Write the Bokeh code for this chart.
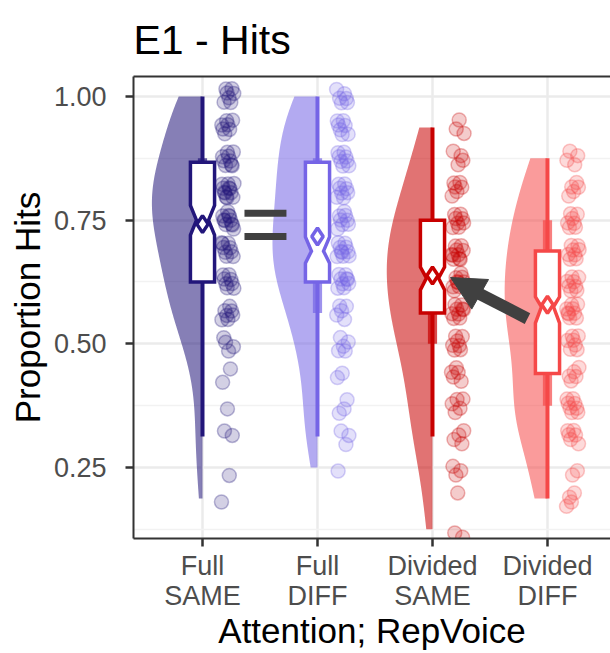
import numpy as np
from bokeh.plotting import figure
from bokeh.models import (FixedTicker, LinearAxis, Range1d, Arrow, NormalHead,
                          NumeralTickFormatter)
from bokeh.embed import file_html
from bokeh.resources import INLINE

# ---------------- data ----------------
TITLE = "E1 - Hits"
CATEGORIES = ["Full\nSAME", "Full\nDIFF", "Divided\nSAME", "Divided\nDIFF"]
POSITIONS = [1, 2, 3, 4]
LEVELS = [0.125, 0.1875, 0.25, 0.3125, 0.375, 0.4375, 0.5, 0.5625,
          0.625, 0.6875, 0.75, 0.8125, 0.875, 0.9375, 1.0]
# number of participants at each proportion level (ascending LEVELS)
FULL_SAME_COUNTS    = [0, 1, 1, 2, 1, 2, 4, 7, 8, 9, 11, 12, 9, 7, 7]
FULL_DIFF_COUNTS    = [0, 0, 1, 3, 3, 2, 5, 5, 9, 10, 8, 8, 8, 7, 6]
DIVIDED_SAME_COUNTS = [2, 1, 3, 4, 5, 5, 7, 9, 9, 10, 8, 6, 4, 3, 0]
DIVIDED_DIFF_COUNTS = [0, 4, 2, 6, 8, 5, 7, 9, 8, 8, 7, 5, 4, 0, 0]
COUNTS = [FULL_SAME_COUNTS, FULL_DIFF_COUNTS, DIVIDED_SAME_COUNTS, DIVIDED_DIFF_COUNTS]

# box statistics as drawn
Q1 = [0.625, 0.625, 0.5625, 0.44]
MEDIAN = [0.75, 0.6875, 0.633, 0.575]
Q3 = [0.867, 0.867, 0.75, 0.6875]
NOTCH_LO = [0.72, 0.663, 0.609, 0.542]
NOTCH_HI = [0.78, 0.716, 0.655, 0.595]
MEAN = [0.742, 0.717, 0.638, 0.579]
WHISKER_LO = [0.3125, 0.3125, 0.3125, 0.1875]
WHISKER_HI = [1.0, 1.0, 0.9375, 0.875]
BAND_LO = [0.625, 0.5625, 0.5, 0.375]
BAND_HI = [0.875, 0.875, 0.75, 0.75]

Y_TICKS = [0.25, 0.5, 0.75, 1.0]
Y_MINOR = [0.125, 0.375, 0.625, 0.875]

# annotations ("=" sign and arrow)
EQUALS_X = [1.365, 1.73]
EQUALS_Y = [0.764, 0.717]
ARROW_START = (3.826, 0.551)
ARROW_BASE = (3.40, 0.602)
ARROW_TIP = (3.157, 0.634)

LINE_COLORS = ["#22167a", "#7564e6", "#c80000", "#f54848"]

# ---------------- figure ----------------
FONT = "Liberation Sans"
p = figure(width=610, height=653, x_range=Range1d(0.4, 4.548),
           y_range=Range1d(0.1065, 1.0404), output_backend="svg",
           toolbar_location=None, min_border_left=133, min_border_right=0,
           min_border_top=76, min_border_bottom=115, title=TITLE)
p.background_fill_color = "white"
p.border_fill_color = "white"
p.outline_line_color = None

p.title.align = "left"
p.title.vertical_align = "top"
p.title.text_font = FONT
p.title.text_font_size = "41px"
p.title.text_font_style = "normal"
p.title.text_color = "black"
p.title.standoff = 24

xa = p.xaxis[0]
xa.ticker = FixedTicker(ticks=POSITIONS)
xa.major_label_overrides = {pos: lab for pos, lab in zip(POSITIONS, CATEGORIES)}
xa.axis_label = "Attention; RepVoice"
ya = p.yaxis[0]
ya.ticker = FixedTicker(ticks=Y_TICKS, minor_ticks=Y_MINOR)
ya.formatter = NumeralTickFormatter(format="0.00")
ya.axis_label = "Proportion Hits"
for ax in (xa, ya):
    ax.axis_line_color = "#333333"
    ax.axis_line_width = 2
    ax.major_tick_line_color = "#333333"
    ax.major_tick_line_width = 2.5
    ax.major_tick_out = 8
    ax.major_tick_in = 0
    ax.minor_tick_line_color = None
    ax.major_label_text_font = FONT
    ax.major_label_text_font_size = "27px"
    ax.major_label_text_color = "#4d4d4d"
    ax.axis_label_text_font = FONT
    ax.axis_label_text_font_size = "35px"
    ax.axis_label_text_font_style = "normal"
    ax.axis_label_text_color = "black"
xa.major_label_standoff = 4
xa.major_label_text_line_height = 1.0
xa.axis_label_standoff = -3
xa.axis_label_text_line_height = 1.0
ya.major_label_standoff = 19
ya.axis_label_standoff = 4

top = LinearAxis(ticker=FixedTicker(ticks=[]), axis_line_color="#333333",
                 axis_line_width=2, major_tick_line_color=None,
                 minor_tick_line_color=None, major_label_text_font_size="0px")
p.add_layout(top, "above")

p.xgrid.grid_line_color = "#ebebeb"
p.xgrid.grid_line_width = 2.5
p.ygrid.grid_line_color = "#ebebeb"
p.ygrid.grid_line_width = 2.5
p.ygrid.minor_grid_line_color = "#f2f2f2"
p.ygrid.minor_grid_line_width = 1.5

# ---------------- violins (kernel density, trimmed to data range) ----------------
def expand(counts):
    vals = []
    for lev, c in zip(LEVELS, counts):
        vals += [lev] * c
    return np.array(vals)

groups = [expand(c) for c in COUNTS]
dens_list = []
for vals in groups:
    n = len(vals)
    sd = vals.std(ddof=1)
    iqr = np.percentile(vals, 75) - np.percentile(vals, 25)
    bw = 0.9 * min(sd, iqr / 1.34) * n ** (-0.2)
    grid = np.linspace(vals.min(), vals.max(), 256)
    d = np.exp(-0.5 * ((grid[:, None] - vals[None, :]) / bw) ** 2).sum(axis=1) / (n * bw * np.sqrt(2 * np.pi))
    dens_list.append((grid, d))
dmax = max(d.max() for _, d in dens_list)
VIOLIN_HALF = 0.44
vx, vy = [], []
for pos, (grid, d) in zip(POSITIONS, dens_list):
    left = pos - d / dmax * VIOLIN_HALF
    vx.append(list(np.concatenate([[pos], left, [pos]])))
    vy.append(list(np.concatenate([[grid[0]], grid, [grid[-1]]])))
p.patches(vx, vy, fill_color=LINE_COLORS, fill_alpha=0.55, line_color=None)

# inner band
p.quad(left=[x - 0.04 for x in POSITIONS], right=[x + 0.04 for x in POSITIONS],
       bottom=BAND_LO, top=BAND_HI, fill_color=LINE_COLORS, fill_alpha=0.7,
       line_color=None)

# whiskers
p.segment(x0=POSITIONS, y0=WHISKER_LO, x1=POSITIONS, y1=WHISKER_HI,
          line_color=LINE_COLORS, line_width=4)

# points
BOX_W = 0.105
PHI = 0.6180339887
for gi, vals in enumerate(groups):
    xs, ys = [], []
    for j, v in enumerate(vals):
        xs.append(POSITIONS[gi] + 0.22 + 0.055 * (2 * ((j * PHI + 0.13 * gi) % 1) - 1))
        ys.append(v + 0.018 * (2 * ((j * 0.7548776662 + 0.3) % 1) - 1))
    p.scatter(xs, ys, size=14, marker="circle", fill_color=LINE_COLORS[gi],
              fill_alpha=0.2, line_color=LINE_COLORS[gi], line_alpha=0.3,
              line_width=1.5)

# notched boxes
bx, by = [], []
for i, c in enumerate(POSITIONS):
    w = BOX_W
    bx.append([c - w, c + w, c + w, c + w / 2, c + w, c + w, c - w, c - w, c - w / 2, c - w])
    by.append([Q3[i], Q3[i], NOTCH_HI[i], MEDIAN[i], NOTCH_LO[i], Q1[i], Q1[i],
               NOTCH_LO[i], MEDIAN[i], NOTCH_HI[i]])
p.patches(bx, by, fill_color="white", line_color=LINE_COLORS, line_width=3.5,
          line_join="miter")

# means
p.scatter(POSITIONS, MEAN, marker="diamond", size=17, fill_color="white",
          line_color=LINE_COLORS, line_width=3.5)

# "=" annotation
p.segment(x0=[EQUALS_X[0]] * 2, x1=[EQUALS_X[1]] * 2, y0=EQUALS_Y, y1=EQUALS_Y,
          line_color="#404040", line_width=7, line_cap="butt")

# arrow annotation
p.segment(x0=[ARROW_START[0]], y0=[ARROW_START[1]], x1=[ARROW_BASE[0]], y1=[ARROW_BASE[1]],
          line_color="#404040", line_width=12, line_cap="butt")
p.add_layout(Arrow(end=NormalHead(size=34, fill_color="#404040", line_color="#404040"),
                   x_start=ARROW_BASE[0], y_start=ARROW_BASE[1],
                   x_end=ARROW_TIP[0], y_end=ARROW_TIP[1],
                   line_alpha=0, line_width=1))

open("out.html", "w").write(file_html(p, INLINE))
